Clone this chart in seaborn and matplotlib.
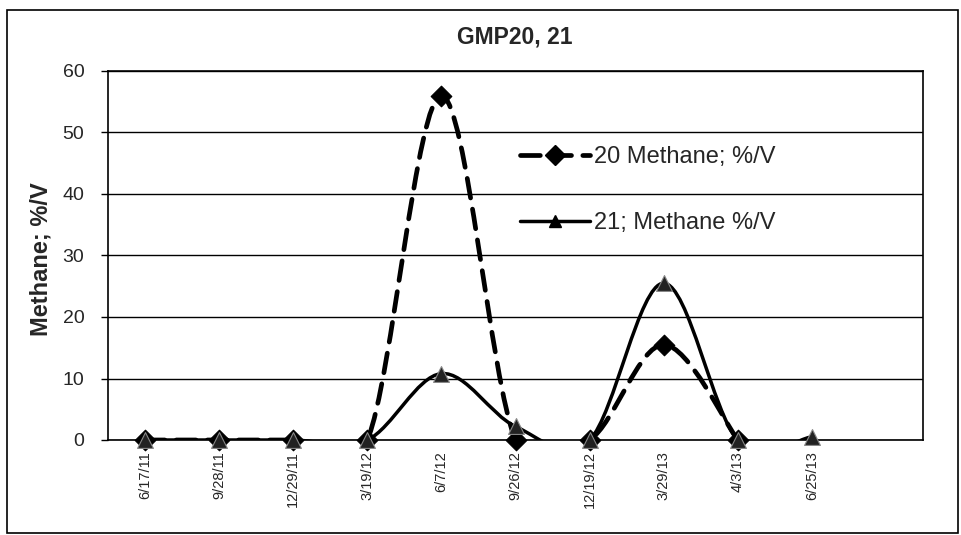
import numpy as np
import matplotlib
matplotlib.use("Agg")
import matplotlib.pyplot as plt
from matplotlib.path import Path
from matplotlib.patches import PathPatch, Rectangle
from matplotlib.lines import Line2D
import seaborn as sns

# data
dates = ["6/17/11", "9/28/11", "12/29/11", "3/19/12", "6/7/12", "9/26/12",
         "12/19/12", "3/29/13", "4/3/13", "6/25/13", ""]
gmp20 = [0, 0, 0, 0, 56, 0, 0, 15.5, 0, np.nan, np.nan]
gmp21 = [0, 0, 0, 0, 10.8, 2.2, 0, 25.5, 0, 0.5, np.nan]
label20 = "20 Methane; %/V"
label21 = "21; Methane %/V"
title = "GMP20, 21"
ylabel = "Methane; %/V"
yticks = [0, 10, 20, 30, 40, 50, 60]


def smooth_path(x, y):
    """excel style smoothed line, as bezier segments (catmull-rom)"""
    x = np.asarray(x, float)
    y = np.asarray(y, float)
    ok = ~np.isnan(y)
    verts, codes = [], []
    i = 0
    n = len(y)
    while i < n:
        if not ok[i]:
            i += 1
            continue
        j = i
        while j + 1 < n and ok[j + 1]:
            j += 1
        pts = np.column_stack([x[i:j + 1], y[i:j + 1]])
        m = len(pts)
        verts.append(pts[0])
        codes.append(Path.MOVETO)
        for k in range(m - 1):
            p0 = pts[k - 1] if k > 0 else pts[k]
            p1 = pts[k]
            p2 = pts[k + 1]
            p3 = pts[k + 2] if k + 2 < m else pts[k + 1]
            c1 = p1 + (p2 - p0) / 6.0
            c2 = p2 - (p3 - p1) / 6.0
            verts += [c1, c2, p2]
            codes += [Path.CURVE4] * 3
        i = j + 1
    return Path(verts, codes)


sns.set_style("white")
plt.rcParams["font.family"] = ["Liberation Sans", "DejaVu Sans"]

fig = plt.figure(figsize=(9.61, 5.35), dpi=100)
ax = fig.add_axes([108 / 961, 1 - 440 / 535, 815 / 961, 369 / 535])

xs = np.arange(len(dates))
dash = (0, (4.2, 2.4))

ax.add_patch(PathPatch(smooth_path(xs, gmp20), fill=False, edgecolor="black",
                       lw=3.4, linestyle=dash, capstyle="round", zorder=3))
ax.add_patch(PathPatch(smooth_path(xs, gmp21), fill=False, edgecolor="black",
                       lw=2.5, zorder=3))

sns.scatterplot(x=xs, y=gmp20, marker="D", s=110, color="black",
                edgecolor="black", ax=ax, zorder=4, clip_on=False)
sns.scatterplot(x=xs, y=gmp21, marker="^", s=130, color="#222222",
                edgecolor="#888888", linewidth=0.8, ax=ax, zorder=5,
                clip_on=False)

ax.set_xlim(-0.5, len(dates) - 0.5)
ax.set_ylim(0, 60)
ax.set_yticks(yticks)
ax.set_yticklabels([str(v) for v in yticks], fontsize=14)
ax.set_xticks(xs)
ax.set_xticklabels(dates, rotation=90, fontsize=10.5, va="top")
ax.set_xticks(np.arange(len(dates) + 1) - 0.5, minor=True)
ax.tick_params(axis="x", which="major", length=0, pad=8)
ax.tick_params(axis="x", which="minor", length=5, width=1, direction="out",
               color="black")
ax.tick_params(axis="y", length=5, width=1, direction="out", color="black",
               pad=12, left=True)

ax.grid(axis="y", color="black", lw=1)
ax.grid(axis="x", visible=False)
for s in ax.spines.values():
    s.set_color("black")
    s.set_linewidth(1.2)

ax.set_ylabel(ylabel, fontsize=17, fontweight="bold")
ax.yaxis.set_label_coords(-0.068, 0.49)

fig.text(515 / 961, 1 - 37 / 535, title, ha="center", va="center",
         fontsize=16.5, fontweight="bold")

handles = [
    Line2D([], [], color="black", lw=3.4, linestyle=dash, marker="D",
           markersize=10, dash_capstyle="round"),
    Line2D([], [], color="black", lw=2.5, marker="^", markersize=9),
]
ax.legend(handles, [label20, label21], loc="upper left",
          bbox_to_anchor=(0.505, 0.796), frameon=False, fontsize=17,
          handlelength=3.0, handletextpad=0.15, labelspacing=1.85,
          borderpad=0, borderaxespad=0)

# outer chart border
fig.add_artist(Rectangle((7 / 961, 1 - 533 / 535), 951 / 961, 523 / 535,
                         transform=fig.transFigure, fill=False,
                         edgecolor="black", lw=1.2))

fig.savefig("out.png", dpi=100)
